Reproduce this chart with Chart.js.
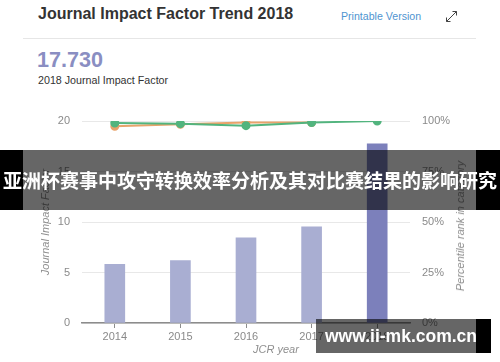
<!DOCTYPE html>
<html>
<head>
<meta charset="utf-8">
<script src="https://cdn.jsdelivr.net/npm/chart.js@4"></script>
<style>
  body { margin: 0; width: 500px; height: 362px; background: #fff; position: relative; overflow: hidden; font-family: "Liberation Sans", Arial, sans-serif; }
  .abs { position: absolute; white-space: nowrap; }
  #title { left: 38px; top: 5px; font-size: 16px; font-weight: bold; color: #333; }
  #printable { left: 341px; top: 10px; font-size: 10.6px; color: #4f94d0; }
  #sep { left: 23px; top: 38px; width: 453px; height: 1px; background: #e6e6e6; }
  #jif { left: 37px; top: 47px; font-size: 21.6px; font-weight: bold; color: #8a8ec2; }
  #jifLabel { left: 38px; top: 74px; font-size: 10.7px; color: #333; }
  #chartBox { left: 0; top: 100px; width: 500px; height: 262px; }
  .axisTitle { font-size: 11px; font-style: italic; color: #8f8f8f; }
  #rightTitle { left: 460px; top: 226px; transform: translate(-50%, -50%) rotate(-90deg); }
  #xTitle { left: 253px; top: 343px; }
  #band { left: 0; top: 150px; width: 500px; height: 60px; background: rgba(0,0,0,0.6); }
  .blk { position: absolute; top: 0; height: 100%; background: #000; }
  #bandText { left: 0; top: 150px; width: 500px; height: 60px; line-height: 60px; text-align: center; font-family: "Noto Sans CJK SC", sans-serif; font-weight: bold; font-size: 19px; color: #fff; }
  #mark { left: 316px; top: 319px; width: 175px; height: 34px; background: rgba(0,0,0,0.6); }
  #markText { left: 316px; top: 319px; width: 170px; height: 34px; line-height: 34px; text-align: center; font-weight: bold; font-size: 17.5px; color: #fff; }
</style>
</head>
<body>
<div class="abs" id="title">Journal Impact Factor Trend 2018</div>
<div class="abs" id="printable">Printable Version</div>
<svg class="abs" style="left:444px;top:9px" width="15" height="15" viewBox="0 0 15 15">
  <g stroke="#444" stroke-width="1" fill="none">
    <line x1="2.5" y1="12.5" x2="12.5" y2="2.5"/>
    <polyline points="8.5,2.5 12.5,2.5 12.5,6.5"/>
    <polyline points="2.5,8.5 2.5,12.5 6.5,12.5"/>
  </g>
</svg>
<div class="abs" id="sep"></div>
<div class="abs" id="jif">17.730</div>
<div class="abs" id="jifLabel">2018 Journal Impact Factor</div>

<div class="abs" id="chartBox"><canvas id="chart" width="500" height="262"></canvas></div>
<div class="abs axisTitle" id="rightTitle">Percentile rank in category</div>
<div class="abs axisTitle" id="xTitle">JCR year</div>

<div class="abs" id="band"><div class="blk" style="left:0;width:23px"></div><div class="blk" style="left:476px;width:24px"></div></div>
<div class="abs" id="bandText">亚洲杯赛事中攻守转换效率分析及其对比赛结果的影响研究</div>
<div class="abs" id="mark"><div class="blk" style="left:160px;width:15px"></div></div>
<div class="abs" id="markText">www.ii-mk.com.cn</div>

<script>
const years = ['2014', '2015', '2016', '2017', '2018'];
const impactFactor = [5.82, 6.19, 8.43, 9.52, 17.73];
const rankGreen = [99.0, 98.7, 97.7, 99.2, 100];
const rankOrange = [97.4, 98.4, 99.2, 99.2, null];
const barColors = ['#a9aed2', '#a9aed2', '#a9aed2', '#a9aed2', '#7c80bb'];

const ctx = document.getElementById('chart').getContext('2d');

new Chart(ctx, {
  type: 'bar',
  data: {
    labels: years,
    datasets: [
      {
        type: 'line',
        data: rankGreen,
        yAxisID: 'y2',
        borderColor: '#52b47e',
        backgroundColor: '#52b47e',
        borderWidth: 2,
        pointRadius: 3.5,
        order: 0
      },
      {
        type: 'line',
        data: rankOrange,
        yAxisID: 'y2',
        borderColor: '#e9a36b',
        backgroundColor: '#e9a36b',
        borderWidth: 2,
        pointRadius: 3.5,
        order: 1
      },
      {
        data: impactFactor,
        yAxisID: 'y',
        backgroundColor: barColors,
        barThickness: 20,
        order: 2
      }
    ]
  },
  options: {
    responsive: false,
    animation: false,
    devicePixelRatio: 1,
    layout: { padding: { top: 21, bottom: 19, left: 0, right: 0 } },
    plugins: { legend: { display: false }, tooltip: { enabled: false } },
    scales: {
      x: {
        afterFit: s => { s.height = 20; },
        grid: { display: true, drawOnChartArea: false, offset: false, color: '#8c8c8c', tickLength: 5 },
        border: { color: '#8c8c8c', width: 1.5 },
        ticks: { color: '#8a8a8a', font: { size: 11, family: 'Liberation Sans' }, padding: 2 }
      },
      y: {
        position: 'left',
        min: 0,
        max: 20,
        afterFit: s => { s.width = 82; },
        grid: { color: '#e8e8e8', drawTicks: false },
        border: { display: false },
        ticks: { stepSize: 5, color: '#8a8a8a', font: { size: 11, family: 'Liberation Sans' }, padding: 12 },
        title: {
          display: true,
          text: 'Journal Impact Factor',
          color: '#8f8f8f',
          font: { size: 11, style: 'italic', family: 'Liberation Sans' },
          padding: { top: 39, bottom: 0 }
        }
      },
      y2: {
        position: 'right',
        min: 0,
        max: 100,
        afterFit: s => { s.width = 90; },
        grid: { display: false, drawTicks: false },
        border: { display: false },
        ticks: { stepSize: 25, callback: v => v + '%', color: '#8a8a8a', font: { size: 11, family: 'Liberation Sans' }, padding: 12 }
      }
    }
  }
});
</script>
</body>
</html>
